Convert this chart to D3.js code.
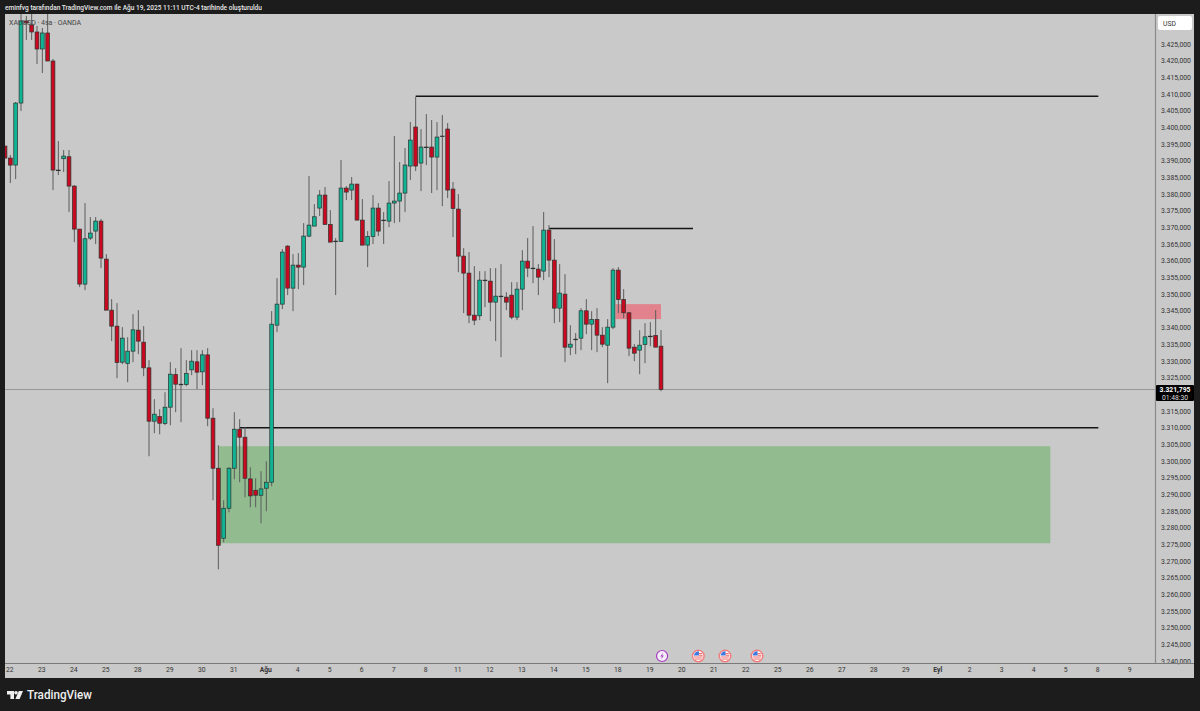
<!DOCTYPE html>
<html><head><meta charset="utf-8">
<script src="https://cdn.jsdelivr.net/npm/d3@7"></script>
<style>html,body{margin:0;padding:0;background:#1c1c1c}svg{display:block}text{font-family:Roboto,sans-serif}</style>
</head><body><svg id="c" width="1200" height="711"></svg>
<script>
const opens=[3394.4,3390.8,3388.7,3407.3,3431.9,3430.7,3428.6,3423.5,3428.3,3419.9,3387.2,3390.6,3391.2,3382.4,3369.5,3353,3366.8,3368.9,3371.9,3360.5,3345.2,3340.4,3329.6,3329.2,3332.9,3339.2,3335.6,3327.9,3311.9,3313.3,3311.2,3316.1,3325.9,3323,3322.9,3327.3,3329.7,3326.7,3331.8,3312.8,3297.8,3276.8,3285.8,3297.8,3309.5,3307.1,3294.6,3291.2,3289.7,3291.8,3293.6,3340.7,3347,3364.4,3351.8,3358.7,3358.1,3367.4,3370.4,3375.8,3379.7,3370.9,3365.9,3365.8,3381.8,3381.2,3383,3372.2,3364.7,3367.3,3375.8,3372.2,3371.9,3377.3,3377.9,3380.3,3388.4,3400.1,3389.3,3394.1,3394.1,3391.1,3397.4,3399.5,3381.5,3375.5,3361.4,3356.3,3343.7,3343.5,3354.2,3353.9,3347.6,3349.4,3349.1,3349.7,3343.1,3351.5,3359.9,3357.8,3357.5,3356.9,3369.2,3360.2,3345.8,3350,3334.1,3336.5,3336.8,3345,3341,3342.4,3337.7,3334.7,3340.1,3357.2,3348.4,3344.4,3334.1,3333.2,3334.9,3337.4,3337.6,3334.4];
const highs=[3394.4,3391.7,3407.6,3434,3433.4,3434,3430.4,3429.8,3434,3420.5,3395.9,3393.2,3393.2,3382.7,3369.5,3377.3,3373.1,3373.1,3372.5,3362,3348.5,3347.3,3340.1,3337.1,3344,3345.2,3340.4,3330.2,3318.5,3315.5,3320.6,3329.6,3327.8,3333.8,3330.2,3333.2,3333.2,3333.2,3333.8,3315.8,3304.7,3288.2,3298.1,3314.6,3312.5,3310.1,3298.1,3294.8,3296.9,3299.9,3344.9,3354.8,3363.5,3364.7,3362,3362.3,3371.3,3385.4,3377,3381.2,3382.1,3375.2,3366.8,3390.2,3382.4,3385.1,3383,3378.5,3368.9,3379.7,3377.3,3374.6,3383.9,3397.4,3389.6,3393.8,3401.6,3409.1,3399.5,3404,3402.2,3401.6,3403.7,3401.3,3383.6,3380,3363.8,3362.6,3358.4,3356.9,3356.9,3357.8,3357.8,3359,3350.6,3353.6,3353.6,3363.2,3366.8,3370.4,3359,3374.6,3370.7,3366.5,3359,3356,3340.7,3338.3,3345.8,3348.5,3344.9,3345.8,3340.1,3342.5,3357.8,3358.1,3351.5,3344.6,3335,3339.2,3341.3,3341.6,3345.2,3339.2];
const lows=[3390.8,3383.3,3384.5,3404.9,3426.2,3426.2,3419,3416.3,3419.9,3381.2,3385.7,3386.6,3374.6,3365.6,3352.1,3351.2,3366.2,3365,3357.8,3345.2,3335.9,3324.8,3329,3323.6,3329.6,3332,3325.4,3301.4,3308.3,3308,3310.7,3310.7,3314.6,3311.6,3322.4,3325.7,3321.5,3322.7,3310.4,3288.2,3267.5,3275.6,3284.6,3294.5,3293.6,3289.1,3286.1,3286.1,3281.3,3284.9,3292.4,3338.6,3345.5,3349.7,3344.9,3351.5,3352.7,3367.1,3370.4,3373.4,3370.9,3365.6,3349.7,3365.8,3378.2,3378.2,3372.2,3364.7,3358.1,3365,3367.4,3365,3370.1,3371.3,3371.6,3374.6,3384.2,3386.9,3380.9,3388.7,3380.3,3381.2,3376.4,3378.8,3367.1,3356.6,3344.3,3341.3,3340.7,3342.2,3346.1,3341.9,3335.9,3331.1,3345.2,3342.5,3342.2,3345.2,3355.1,3353.3,3349.7,3354.2,3355.1,3341.3,3341.6,3329.6,3331.7,3332,3333.2,3338,3333.2,3332.6,3334.1,3323.3,3339.5,3344.3,3342.8,3331.4,3329.9,3326,3329.3,3334.4,3334.1,3320.9];
const closes=[3390.8,3388.7,3407.3,3431.9,3431.3,3428.6,3423.5,3428.3,3419.9,3387.2,3387.2,3391.4,3382.4,3369.5,3353,3366.6,3368.3,3371.9,3360.8,3345.2,3340.4,3329.5,3336.8,3332.9,3339.3,3335.9,3327.9,3311.9,3314,3311.3,3316.1,3326,3323,3323,3326.2,3329.9,3326.6,3331.8,3312.8,3297.8,3274.7,3285.8,3297.8,3309.5,3307.1,3294.8,3289.5,3289.7,3291.6,3293.6,3341,3347,3362.6,3351.8,3358.7,3358.1,3367.4,3370.7,3373.2,3379.7,3370.9,3365.6,3365.9,3381.8,3380.6,3383,3372.2,3364.7,3367.3,3375.8,3368.9,3372.2,3377.3,3377.9,3380.3,3388.7,3396.2,3388.4,3394.1,3394.1,3391.1,3397.1,3397.4,3381.2,3375.7,3361.4,3356.3,3343.7,3342.2,3354.2,3354.2,3347.6,3349.4,3349.4,3347.6,3343.1,3351.5,3359.9,3357.8,3357.8,3355.1,3369.2,3360.2,3345.8,3350.3,3334.1,3335,3336.5,3345,3341,3342.4,3337.7,3335,3340.1,3357.2,3348.4,3344.4,3333.8,3332.3,3334.7,3337.2,3337.4,3334.1,3321.4];
const priceTicks=d3.range(3240,3426,5).filter(p=>p!==3320);
const dayLabels=["22","23","24","25","28","29","30","31","Ağu","4","5","6","7","8","11","12","13","14","15","18","19","20","21","22","25","26","27","28","29","Eyl","2","3","4","5","8","9"];
const dayBars=dayLabels.map((_,k)=>0.8+6*k);
const levels=[[77,205,3409.3],[102,129,3369.7],[44,205,3309.9]];
const demandZone=[40,196,3304.4,3275.3];
const supplyZone=[114.5,123,3347,3342.5];
const lastPrice=3321.4, lastLabel="3.321,795", countdown="01:48:30";
const flagBars=[130,135,141], boltBar=123.2;
const header="eminfvg tarafından TradingView.com ile Ağu 19, 2025 11:11 UTC-4 tarihinde oluşturuldu";
const legend="XAUUSD · 4sa · OANDA";

const UP="#10b394",DOWN="#c8091f",EDGE="#2b3330",WICK="#5c5c5c",PLOT="#c9c9c9",DARK="#1c1c1c";
const L=5,R=1155,T=14,B=663;
const x=d3.scaleLinear().domain([0,1]).range([5,5+16/3]);
const y=d3.scaleLinear().domain([3425,3240]).range([44,661]);
const svg=d3.select("#c");
svg.append("rect").attr("width",1200).attr("height",711).attr("fill",DARK);
svg.append("rect").attr("x",L).attr("y",T).attr("width",R-L).attr("height",B-T).attr("fill",PLOT);
svg.append("rect").attr("x",R).attr("y",T).attr("width",39).attr("height",664).attr("fill",PLOT);
svg.append("rect").attr("x",L).attr("y",B).attr("width",1189).attr("height",15).attr("fill",PLOT);
svg.append("defs").append("clipPath").attr("id","pc").append("rect").attr("x",L).attr("y",T).attr("width",R-L).attr("height",B-T);
const g=svg.append("g").attr("clip-path","url(#pc)");

g.append("rect").attr("x",x(demandZone[0])).attr("width",x(demandZone[1])-x(demandZone[0]))
 .attr("y",y(demandZone[2])).attr("height",y(demandZone[3])-y(demandZone[2])).attr("fill","rgb(50,165,45)").attr("fill-opacity",.36);
g.append("rect").attr("x",x(supplyZone[0])).attr("width",x(supplyZone[1])-x(supplyZone[0]))
 .attr("y",y(supplyZone[2])).attr("height",y(supplyZone[3])-y(supplyZone[2])).attr("fill","rgb(249,59,79)").attr("fill-opacity",.5);
g.append("line").attr("x1",L).attr("x2",R).attr("y1",y(lastPrice)).attr("y2",y(lastPrice)).attr("stroke","#8a8a8a").attr("stroke-width",.8);
g.selectAll(".lv").data(levels).join("line").attr("x1",d=>x(d[0])).attr("x2",d=>x(d[1])).attr("y1",d=>y(d[2])).attr("y2",d=>y(d[2])).attr("stroke","#141414").attr("stroke-width",1.5);

const bars=opens.map((o,i)=>({i,o,h:highs[i],l:lows[i],c:closes[i]}));
const cg=g.selectAll(".k").data(bars).join("g");
cg.append("line").attr("x1",d=>x(d.i)).attr("x2",d=>x(d.i)).attr("y1",d=>y(d.h)).attr("y2",d=>y(d.l)).attr("stroke",WICK).attr("stroke-width",1);
cg.append("rect").attr("x",d=>x(d.i)-1.9).attr("width",3.8)
 .attr("y",d=>y(Math.max(d.o,d.c))).attr("height",d=>Math.max(.6,Math.abs(y(d.o)-y(d.c))))
 .attr("fill",d=>d.c>d.o?UP:d.c<d.o?DOWN:EDGE).attr("stroke",EDGE).attr("stroke-width",.7);

// axes
const yAxis=d3.axisRight(y).tickValues(priceTicks).tickSize(0).tickPadding(0)
 .tickFormat(p=>{const s=String(p);return s[0]+"."+s.slice(1)+",000";});
const ya=svg.append("g").attr("transform","translate(1161,0)").call(yAxis);
ya.select(".domain").remove();
ya.selectAll("text").attr("font-size",6.8).attr("fill","#333").attr("font-family","Roboto");
svg.append("line").attr("x1",R+.5).attr("x2",R+.5).attr("y1",T).attr("y2",B).attr("stroke","#8a8a8a").attr("stroke-width",1.2);
svg.append("line").attr("x1",L).attr("x2",1194).attr("y1",B+.5).attr("y2",B+.5).attr("stroke","#7a7a7a").attr("stroke-width",1.2);

const xAxis=d3.axisBottom(x).tickValues(dayBars).tickSize(0).tickPadding(0).tickFormat((d,i)=>dayLabels[i]);
const xa=svg.append("g").attr("transform",`translate(0,${B+4})`).call(xAxis);
xa.select(".domain").remove();
xa.selectAll("text").attr("font-size",6.8).attr("fill","#333").attr("font-family","Roboto")
 .attr("font-weight",(d,i)=>/[A-Z]/.test(dayLabels[i])?700:400);

// USD box
svg.append("rect").attr("x",1158).attr("y",16).attr("width",34).attr("height",14).attr("rx",2).attr("fill","#fff");
svg.append("text").attr("x",1163).attr("y",26).attr("font-size",6.8).attr("fill","#333").text("USD");
// last price label
svg.append("rect").attr("x",1156).attr("y",385).attr("width",38).attr("height",16).attr("rx",1).attr("fill","#000");
svg.append("text").attr("x",1175).attr("y",392).attr("text-anchor","middle").attr("font-size",6.8).attr("font-weight",700).attr("fill","#fff").text(lastLabel);
svg.append("text").attr("x",1175).attr("y",399.5).attr("text-anchor","middle").attr("font-size",6.8).attr("fill","#ddd").text(countdown);
// texts
svg.append("text").attr("x",5).attr("y",10).attr("font-size",6.55).attr("font-weight",500).attr("fill","#e8e8e8").text(header);
svg.append("text").attr("x",9).attr("y",25).attr("font-size",7).attr("fill","#444").text(legend);

// event markers
const ey=656;
const bolt=svg.append("g").attr("transform",`translate(${x(boltBar)},${ey})`);
bolt.append("circle").attr("r",5.5).attr("fill","#f4eef8").attr("stroke","#a83cc4").attr("stroke-width",1.2);
bolt.append("path").attr("d","M1.2-3.4L-1.8.6H0L-1.2 3.4L1.8-.6H0Z").attr("fill","#a83cc4");
flagBars.forEach(b=>{
  const f=svg.append("g").attr("transform",`translate(${x(b)},${ey})`);
  f.append("circle").attr("r",5.8).attr("fill","#fff").attr("stroke","#f07c7c").attr("stroke-width",1.4);
  f.append("path").attr("d","M-4.5-.4A4.6 4.6 0 0 1 .6-4.6V-.4Z").attr("fill","#3f78e0");
  f.append("path").attr("d","M-4.4.6H4.4V1.6H-4.4ZM-3.4 2.6H3.4V3.6H-3.4ZM.6-3H3.6V-2H.6ZM.6-1.3H4.4V-.3H.6Z").attr("fill","#ef6a6a");
});
// logo
const lg=svg.append("g").attr("fill","#eee");
lg.append("path").attr("d","M7 691H14V699H10.4V694.4H7Z");
lg.append("circle").attr("cx",16).attr("cy",692.8).attr("r",1.8);
lg.append("path").attr("d","M18.8 691H23L19.6 699H15.4Z");
svg.append("text").attr("x",27).attr("y",699).attr("font-size",13).attr("font-weight",500).attr("fill","#eee").attr("textLength",65).attr("lengthAdjust","spacingAndGlyphs").text("TradingView");
</script></body></html>
